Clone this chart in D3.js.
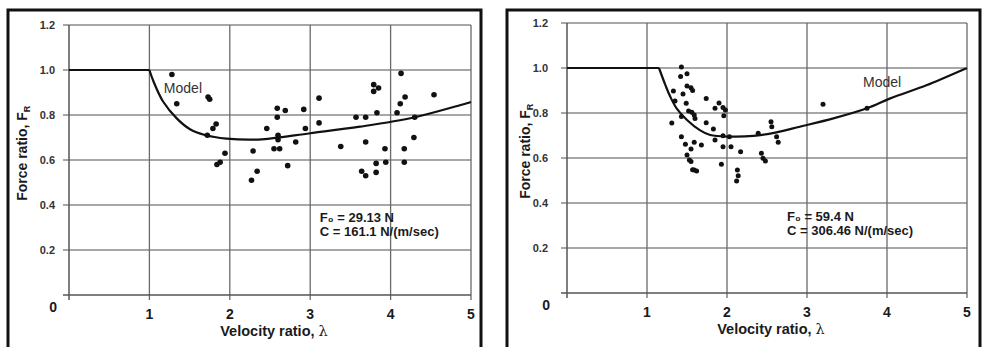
<!DOCTYPE html>
<html>
<head>
<meta charset="utf-8">
<script src="https://cdn.jsdelivr.net/npm/d3@7"></script>
<style>
  body { margin: 0; background: #fff; }
  text { font-family: "Liberation Sans", Arial, sans-serif; fill: #1a1a1a; }
</style>
</head>
<body>
<div id="chart"></div>
<script>
// tick values
var xTicks = [1, 2, 3, 4, 5];
var yTicks = [0.2, 0.4, 0.6, 0.8, 1.0, 1.2];

// left panel: measured points [velocity ratio, force ratio]
var leftPoints = [
  [1.28,0.98],[1.34,0.85],[1.73,0.88],[1.75,0.87],[1.83,0.76],[1.79,0.74],[1.72,0.71],[1.94,0.63],[1.88,0.59],[1.84,0.58],
  [2.29,0.64],[2.34,0.55],[2.27,0.51],[2.46,0.74],[2.59,0.83],[2.69,0.82],[2.59,0.79],[2.60,0.71],[2.60,0.69],[2.55,0.65],
  [2.62,0.65],[2.72,0.575],[2.82,0.68],[2.92,0.825],[2.94,0.74],[3.11,0.875],[3.11,0.765],[3.38,0.66],[3.57,0.79],
  [3.69,0.79],[3.83,0.81],[4.13,0.985],[3.79,0.935],[3.85,0.92],[3.79,0.905],[4.18,0.88],[4.12,0.85],[4.08,0.81],
  [4.54,0.89],[4.30,0.79],[4.29,0.70],[3.69,0.68],[3.93,0.65],[4.17,0.65],[3.82,0.585],[3.94,0.59],[4.17,0.59],
  [3.64,0.55],[3.69,0.53],[3.82,0.545]
];
// left panel: model curve
var leftModelFlat = [[0, 1.0], [1.0, 1.0]];
var leftModel = [
  [1.0,1.0],[1.05,0.95],[1.17,0.86],[1.34,0.785],[1.5,0.738],[1.69,0.711],[1.96,0.695],
  [2.4,0.692],[3.0,0.719],[3.62,0.748],[4.3,0.79],[5.0,0.858]
];
var leftNotes = ["F\u2080 = 29.13 N", "C  = 161.1 N/(m/sec)"];

// right panel
var rightPoints = [
  [1.43,1.005],[1.50,0.975],[1.42,0.962],[1.50,0.92],[1.55,0.912],[1.57,0.90],[1.33,0.898],[1.45,0.885],[1.74,0.865],
  [1.35,0.853],[1.49,0.843],[1.52,0.809],[1.56,0.803],[1.59,0.791],[1.60,0.776],[1.43,0.784],[1.31,0.756],[1.74,0.757],
  [1.43,0.695],[1.48,0.661],[1.59,0.67],[1.68,0.658],[1.55,0.64],[1.50,0.613],[1.53,0.591],[1.55,0.584],[1.59,0.547],
  [1.62,0.542],[1.57,0.548],[1.90,0.845],[1.85,0.821],[1.95,0.824],[1.98,0.813],[1.96,0.788],[1.83,0.729],[1.85,0.68],
  [1.95,0.699],[2.03,0.695],[1.95,0.65],[2.05,0.65],[2.17,0.628],[1.93,0.572],[2.39,0.71],[2.55,0.761],[2.56,0.739],
  [2.62,0.695],[2.64,0.67],[2.43,0.621],[2.45,0.599],[2.48,0.587],[2.13,0.547],[2.14,0.521],[2.12,0.498],
  [3.20,0.839],[3.75,0.821]
];
var rightModelFlat = [[0, 1.0], [1.15, 1.0]];
var rightModel = [
  [1.15,1.0],[1.23,0.924],[1.29,0.873],[1.37,0.821],[1.5,0.769],[1.66,0.724],[1.79,0.702],[2.04,0.695],
  [2.33,0.698],[2.62,0.714],[2.91,0.739],[3.33,0.776],[3.75,0.821],[4.04,0.865],[4.5,0.924],[5.0,1.0]
];
var rightNotes = ["F\u2080 = 59.4 N", "C  = 306.46 N/(m/sec)"];

var svg = d3.select("#chart")
  .append("svg")
  .attr("width", 983)
  .attr("height", 347);

function panel(opt) {
  var x = d3.scaleLinear().domain([0, 5]).range([opt.x0, opt.x1]);
  var y = d3.scaleLinear().domain([0, 1.2]).range([opt.y0, opt.y1]);
  var g = svg.append("g");

  // outer frame
  g.append("rect")
    .attr("x", opt.frame[0]).attr("y", opt.frame[1])
    .attr("width", opt.frame[2]).attr("height", 360)
    .attr("fill", "none").attr("stroke", "#111").attr("stroke-width", 3);

  // horizontal grid
  g.selectAll(".hgrid").data(yTicks).enter().append("line")
    .attr("x1", x(0) - 6).attr("x2", x(5))
    .attr("y1", d => y(d)).attr("y2", d => y(d))
    .attr("stroke", "#8a8a8a").attr("stroke-width", 1.3);

  // vertical grid
  g.selectAll(".vgrid").data(xTicks).enter().append("line")
    .attr("x1", d => x(d)).attr("x2", d => x(d))
    .attr("y1", y(1.2)).attr("y2", y(0) + 5)
    .attr("stroke", "#6a6a6a").attr("stroke-width", 1.3);

  // axes
  g.append("line").attr("x1", x(0)).attr("x2", x(0)).attr("y1", y(1.2)).attr("y2", y(0) + 5)
    .attr("stroke", "#555").attr("stroke-width", 1.5);
  g.append("line").attr("x1", x(0) - 6).attr("x2", x(5)).attr("y1", y(0)).attr("y2", y(0))
    .attr("stroke", "#555").attr("stroke-width", 1.5);

  // tick labels
  g.selectAll(".ylab").data(yTicks).enter().append("text")
    .attr("x", x(0) - opt.yLabGap).attr("y", d => y(d) + 4)
    .attr("text-anchor", "end")
    .style("font-size", "11px").style("font-weight", "bold").style("fill", "#333")
    .text(d => d3.format(".1f")(d));
  g.append("text")
    .attr("x", x(0) - opt.yLabGap + 2).attr("y", y(0) + 17)
    .attr("text-anchor", "end")
    .style("font-size", "14px").style("font-weight", "bold")
    .text("0");
  g.selectAll(".xlab").data(xTicks).enter().append("text")
    .attr("x", d => x(d)).attr("y", y(0) + 24)
    .attr("text-anchor", "middle")
    .style("font-size", "14px").style("font-weight", "bold")
    .text(d => d);

  // axis titles
  var xt = g.append("text")
    .attr("x", x(2.55)).attr("y", y(0) + 41)
    .attr("text-anchor", "middle")
    .style("font-size", "14.5px").style("font-weight", "bold");
  xt.append("tspan").text("Velocity ratio,   ");
  xt.append("tspan").style("font-family", "DejaVu Serif").style("font-weight", "normal").text("\u03bb");

  var yt = g.append("text")
    .attr("transform", "translate(" + (x(0) - opt.yTitleGap) + "," + y(0.63) + ") rotate(-90)")
    .attr("text-anchor", "middle")
    .style("font-size", "14px").style("font-weight", "bold");
  yt.append("tspan").text("Force ratio,  F");
  yt.append("tspan").attr("dy", 3).style("font-size", "9px").text("R");

  // model curve
  var line = d3.line().x(d => x(d[0])).y(d => y(d[1]));
  g.append("path").datum(opt.flat)
    .attr("d", line)
    .attr("fill", "none").attr("stroke", "#111").attr("stroke-width", 2.2);
  g.append("path").datum(opt.model)
    .attr("d", line.curve(d3.curveCatmullRom))
    .attr("fill", "none").attr("stroke", "#111").attr("stroke-width", 2.2);

  // data points
  g.selectAll(".pt").data(opt.points).enter().append("circle")
    .attr("cx", d => x(d[0])).attr("cy", d => y(d[1]))
    .attr("r", opt.r).attr("fill", "#111");

  // labels
  g.append("text")
    .attr("x", x(opt.modelLabel[0])).attr("y", y(opt.modelLabel[1]))
    .style("font-size", "14px").style("fill", "#333")
    .text("Model");

  g.selectAll(".note").data(opt.notes).enter().append("text")
    .attr("x", x(opt.notePos[0])).attr("y", (d, i) => y(opt.notePos[1]) + i * 14)
    .style("font-size", "13px").style("font-weight", "bold")
    .text(d => d);
}

panel({
  x0: 69, x1: 471, y0: 295, y1: 25,
  frame: [8, 10, 473],
  points: leftPoints, flat: leftModelFlat, model: leftModel,
  modelLabel: [1.18, 0.9], notes: leftNotes, notePos: [3.12, 0.325], r: 2.8,
  yLabGap: 14, yTitleGap: 42
});

panel({
  x0: 567, x1: 967, y0: 293, y1: 23,
  frame: [507, 10, 473],
  points: rightPoints, flat: rightModelFlat, model: rightModel,
  modelLabel: [3.7, 0.915], notes: rightNotes, notePos: [2.75, 0.32], r: 2.5,
  yLabGap: 19, yTitleGap: 37
});
</script>
</body>
</html>
